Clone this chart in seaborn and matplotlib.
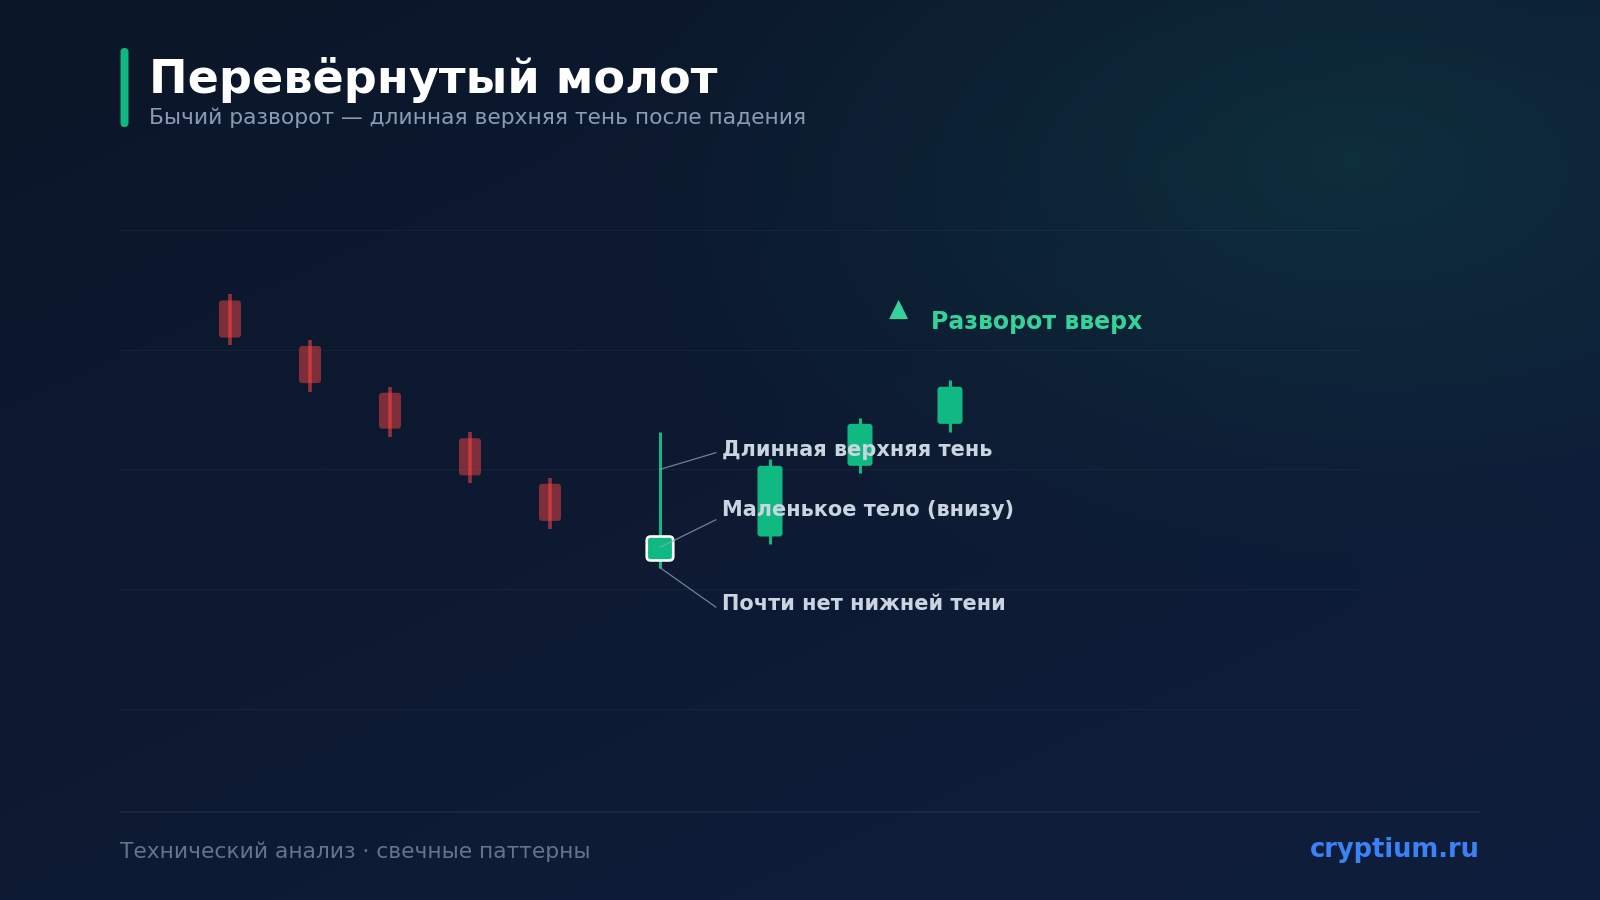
import numpy as np
import pandas as pd
import matplotlib
matplotlib.use("Agg")
import matplotlib.pyplot as plt
from matplotlib.patches import FancyBboxPatch
import seaborn as sns

# Candle data (price units, x = time slot)
x_pos = [23, 31, 39, 47, 55, 66, 77, 86, 95]
opens = [134.1, 130.3, 126.4, 122.6, 118.8, 112.4, 114.4, 120.3, 123.8]
closes = [131.0, 127.2, 123.4, 119.5, 115.7, 114.4, 120.3, 123.8, 126.9]
highs = [134.6, 130.8, 126.9, 123.1, 119.3, 123.1, 120.9, 124.3, 127.5]
lows = [130.4, 126.5, 122.7, 118.9, 115.0, 111.8, 113.8, 119.7, 123.1]
hammer_idx = 5

grid_levels = [100, 110, 120, 130, 140]

title = "Перевёрнутый молот"
subtitle = "Бычий разворот — длинная верхняя тень после падения"
labels = ["Длинная верхняя тень", "Маленькое тело (внизу)", "Почти нет нижней тени"]
label_anchor_y = [120.0, 113.5, 111.8]   # point on the hammer
label_end_y = [121.4, 115.8, 108.5]      # end of leader line
label_text_y = [121.1, 116.1, 108.3]     # text baseline
footer_left = "Технический анализ · свечные паттерны"
footer_right = "cryptium.ru"
reversal = "Разворот вверх"

RED = "#ef4444"
GREEN = "#10b981"
BG0 = np.array([11, 22, 40]) / 255
BG1 = np.array([15, 30, 60]) / 255
TEAL = np.array([16, 185, 129]) / 255

df = pd.DataFrame({"x": x_pos, "open": opens, "close": closes, "high": highs, "low": lows})
df["bull"] = df["close"] > df["open"]

sns.set_theme(style="dark", rc={"axes.facecolor": "none", "figure.facecolor": "#0b1628"})
plt.rcParams["font.family"] = ["DejaVu Sans"]

fig = plt.figure(figsize=(16, 9), dpi=100)

# background gradient + teal glow
W, H = 1600, 900
yy, xx = np.mgrid[0:H, 0:W]
t = np.clip(xx / W * 0.45 + yy / H * 0.55, 0, 1)[..., None]
img = BG0 * (1 - t) + BG1 * t
d = np.sqrt(((xx - 1350) / (0.5 * W)) ** 2 + ((yy - 160) / (0.5 * H)) ** 2)
glow = (np.clip(1 - d, 0, 1) ** 1.3 * 0.13)[..., None]
img = img * (1 - glow) + TEAL * glow
bg = fig.add_axes([0, 0, 1, 1], zorder=-5)
bg.imshow(img, aspect="auto", extent=(0, W, H, 0))
bg.set_axis_off()

# chart axes
ax = fig.add_axes([120 / W, 167 / H, 1239 / W, 527.2 / H], zorder=1)
ax.set_xlim(12, 135.9)
ax.set_ylim(98, 142)
ax.set_yticks(grid_levels)
ax.set_xticks([])
ax.grid(axis="y", color="white", alpha=0.045, linewidth=0.75)
ax.grid(axis="x", visible=False)
ax.tick_params(left=False, labelleft=False, bottom=False)
sns.despine(ax=ax, left=True, bottom=True)

for i, row in df.iterrows():
    hammer = i == hammer_idx
    if row["bull"]:
        wick_kw = dict(color=GREEN, lw=2.2, alpha=1)
        body_kw = dict(facecolor=GREEN, edgecolor="white" if hammer else "none",
                       lw=1.9 if hammer else 0)
        w = 2.65 if hammer else 2.5
    else:
        wick_kw = dict(color=RED, lw=2.6, alpha=0.6)
        body_kw = dict(facecolor=(*matplotlib.colors.to_rgb(RED), 0.5), edgecolor="none", lw=0)
        w = 2.2
    ax.vlines(row["x"], row["low"], row["high"], zorder=2, capstyle="butt", **wick_kw)
    lo, hi = min(row["open"], row["close"]), max(row["open"], row["close"])
    r = 0.4 if hammer else 0.3
    body = FancyBboxPatch((row["x"] - w / 2, lo), w, hi - lo,
                          boxstyle=f"round,pad=0,rounding_size={r}",
                          mutation_aspect=10 / 11.98, zorder=3, **body_kw)
    ax.add_patch(body)

# leader lines and labels for the hammer
hx = x_pos[hammer_idx]
for lab, ay, ey, ty in zip(labels, label_anchor_y, label_end_y, label_text_y):
    ax.plot([hx, hx + 5.6], [ay, ey], color="#94a3b8", lw=0.9, alpha=0.75,
            zorder=4, clip_on=False)
    ax.text(hx + 6.25, ty, lab, color="#cbd5e1", fontsize=15, fontweight="bold",
            ha="left", va="baseline", zorder=5, clip_on=False)

# overlay for title, footer and decorations (pixel coordinates)
ov = fig.add_axes([0, 0, 1, 1], zorder=3)
ov.set_xlim(0, W)
ov.set_ylim(H, 0)
ov.set_axis_off()

ov.add_patch(FancyBboxPatch((120.5, 48), 8, 79, boxstyle="round,pad=0,rounding_size=4",
                            facecolor=GREEN, edgecolor="none"))
ov.text(149, 93, title, color="white", fontsize=33.2, fontweight="bold", ha="left", va="baseline")
ov.text(149, 124.5, subtitle, color="#8b9bb4", fontsize=15.7, ha="left", va="baseline")

ov.text(889, 316, "▲", color="#34d399", fontsize=18, ha="left", va="baseline")
ov.text(931, 329, reversal, color="#34d399", fontsize=17, fontweight="bold",
        ha="left", va="baseline")

ov.plot([120, 1480], [812, 812], color="white", alpha=0.06, lw=1.2)
ov.text(120, 858, footer_left, color="#64748b", fontsize=15.7, ha="left", va="baseline")
ov.text(1480, 857, footer_right, color="#3b82f6", fontsize=18.5, fontweight="bold",
        ha="right", va="baseline")

fig.savefig("out.png", dpi=100)
